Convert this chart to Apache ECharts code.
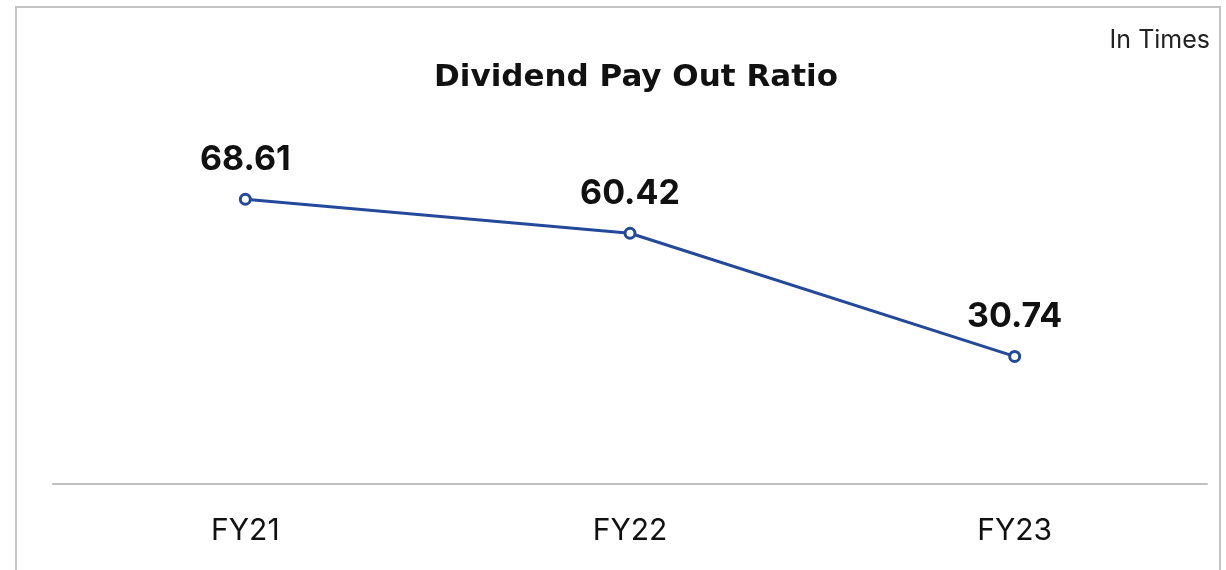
<!DOCTYPE html>
<html style="height: 100%; width: 100%">
  <head>
    <meta charset="utf-8" />
  </head>
  <body style="height: 100%; width: 100%; margin: 0">
    <div id="chart-panel" style="height: 570px; width: 1226px"></div>
    <script
      type="text/javascript"
      src="https://cdn.jsdelivr.net/npm/echarts@6/dist/echarts.min.js"
    ></script>
    <script type="text/javascript">
      var categories = ["FY21", "FY22", "FY23"];
      var payoutRatio = [68.61, 60.42, 30.74];
      var titleText = "Dividend Pay Out Ratio";
      var unitText = "In Times";

      var dom = document.getElementById("chart-panel");
      var myChart = echarts.init(dom);
      var font = "Inter";

      var option = {
        animation: false,
        title: {
          text: titleText,
          left: 631,
          top: 57,
          textAlign: "center",
          textStyle: {
            fontFamily: "DejaVu Sans",
            fontSize: 31,
            fontWeight: "bold",
            color: "#111111",
          },
        },
        graphic: [
          {
            type: "rect",
            shape: { x: 16, y: 7, width: 1204, height: 600 },
            style: { fill: "none", stroke: "#c4c4c4", lineWidth: 2 },
            silent: true,
          },
          {
            type: "text",
            right: 16,
            top: 28,
            style: {
              text: unitText,
              font: "25px " + font,
              fill: "#222222",
            },
          },
        ],
        grid: {
          left: 53,
          right: 19,
          top: 69,
          bottom: 86,
        },
        xAxis: {
          type: "category",
          data: categories,
          axisLine: { show: true, lineStyle: { color: "#c0c0c0", width: 2 } },
          axisTick: { show: false },
          axisLabel: {
            fontFamily: font,
            fontSize: 30,
            color: "#111111",
            margin: 32,
          },
        },
        yAxis: {
          type: "value",
          min: 0,
          max: 100,
          show: false,
          splitLine: { show: false },
        },
        series: [
          {
            type: "line",
            data: payoutRatio,
            symbol: "circle",
            symbolSize: 10,
            lineStyle: { color: "#24499a", width: 3 },
            itemStyle: { color: "#ffffff", borderColor: "#24499a", borderWidth: 3 },
            label: {
              show: true,
              position: "top",
              distance: 16,
              fontFamily: font,
              fontSize: 34,
              fontWeight: "bold",
              color: "#111111",
            },
          },
        ],
      };
      myChart.setOption(option);
    </script>
  </body>
</html>
